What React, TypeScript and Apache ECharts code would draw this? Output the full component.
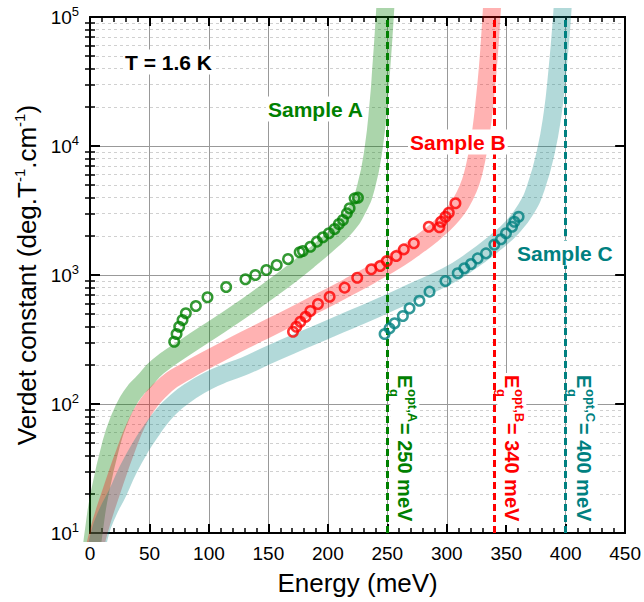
import React, { useEffect, useRef } from 'react';
import * as echarts from 'echarts';

const FONT = '"Liberation Sans", Arial, Helvetica, sans-serif';
const GREEN = '#008000';
const RED = '#ff0000';
const TEAL = '#008080';

// Measured points (circles)
const sampleA_E = [70.8, 72.8, 75, 77.8, 80.6, 89, 98.8, 114.5, 130.7, 139, 148.3, 157, 166.5, 176.3, 179, 185.3, 190.8, 195.9, 200.9, 205.7, 209.3, 212.7, 216, 218.3, 222.5, 225.3];
const sampleA_V = [304, 349, 397, 448, 505, 575, 672, 807, 927, 1000, 1093, 1196, 1331, 1500, 1535, 1657, 1813, 1960, 2105, 2274, 2485, 2670, 3005, 3288, 3930, 3975];

const sampleB_E = [170.7, 173.5, 176.9, 181.3, 185.3, 191.7, 201.5, 214.1, 224.7, 236.5, 244, 249.6, 257.5, 263.9, 272.3, 284.9, 293.8, 295.3, 298.9, 301.7, 307.3];
const sampleB_V = [363, 397, 434, 475, 526, 596, 679, 798, 953, 1107, 1175, 1284, 1404, 1581, 1761, 2367, 2343, 2588, 2831, 3041, 3597];

const sampleC_E = [247.7, 251.9, 256.1, 263.1, 268.7, 277, 285.5, 298.9, 309.2, 314.8, 320.4, 326, 333, 340, 345.6, 349.8, 354.9, 356.8, 360.4];
const sampleC_V = [349, 386, 423, 481, 552, 632, 743, 898, 1031, 1128, 1217, 1346, 1472, 1720, 1892, 2105, 2367, 2588, 2831];

// Model bands
const bandA_E = [1, 3, 8, 18, 25.2, 31.9, 38.6, 45, 57, 80, 109, 130, 151, 168, 185, 201.5, 215.5, 225.3, 232.3, 238.4, 242.9, 244.9, 247.7, 249.3];
const bandA_V = [7, 10, 20, 50, 78, 105, 129, 148, 195, 275, 412, 556, 766, 1000, 1334, 1799, 2399, 3311, 4898, 9480, 22700, 39800, 94800, 178000];

const bandB_E = [2, 7, 18, 32, 40.3, 48.7, 58.8, 68.8, 79.8, 89.8, 110, 130, 151, 175, 201.5, 220, 235, 260, 277, 287, 295, 305, 312, 318, 322, 326, 329, 332, 334.5, 336.5, 338, 339.2];
const bandB_V = [6, 10, 21, 49, 74, 100, 128, 154, 177, 200, 251, 313, 391, 506, 676, 832, 989, 1349, 1738, 2042, 2371, 2951, 3631, 4677, 6026, 8913, 13183, 22909, 39811, 70795, 117490, 199526];

const bandC_E = [4, 8.4, 15.1, 22.7, 31.9, 42, 52, 62, 73, 85.6, 99, 114.2, 130, 151, 180, 210, 240, 270, 300, 320, 340, 355, 366.6, 375, 383.4, 389, 393, 396.5, 398.5];
const bandC_V = [6, 10, 14.6, 20, 30.8, 45.6, 62.9, 83.6, 105, 128, 151, 174, 197, 242, 316, 415, 546, 729, 977, 1274, 1758, 2344, 3236, 4786, 9120, 17783, 38019, 89125, 177828];

// Optical gaps (meV)
const gapA = 250;
const gapB = 340;
const gapC = 400;

// Axis tick values
const yMinorTicks = [20, 30, 40, 50, 60, 70, 80, 90, 200, 300, 400, 500, 600, 700, 800, 900, 2000, 3000, 4000, 5000, 6000, 7000, 8000, 9000, 20000, 30000, 40000, 50000, 60000, 70000, 80000, 90000];

const zip = (xs: number[], ys: number[]) => xs.map((x, i) => [x, ys[i]]);

export default function App() {
  const ref = useRef<HTMLDivElement>(null);

  useEffect(() => {
    document.body.style.margin = '0';
    const chart = echarts.init(ref.current!, null, { renderer: 'svg' });

    const bandSeries = (data: number[][], color: string, opacity: number) => ({
      type: 'line',
      data,
      smooth: 0.5,
      showSymbol: false,
      symbol: 'none',
      silent: true,
      z: 1,
      lineStyle: { color, width: 18, opacity, cap: 'butt', join: 'round' },
    });

    const pointSeries = (data: number[][], color: string, gap: number) => ({
      type: 'scatter',
      data,
      symbol: 'circle',
      symbolSize: 9.5,
      z: 4,
      itemStyle: { color: 'rgba(255,255,255,0)', borderColor: color, borderWidth: 2.5 },
      markLine: {
        silent: true,
        symbol: ['none', 'none'],
        label: { show: false },
        lineStyle: { color, width: 3, type: [7, 4] },
        data: [{ xAxis: gap }],
        z: 3,
      },
    });

    const baseY = {
      type: 'log',
      logBase: 10,
      min: 10,
      max: 100000,
    };

    chart.setOption({
      animation: false,
      grid: { left: 90, right: 18, top: 17, bottom: 69, containLabel: false },
      xAxis: [
        {
          type: 'value', min: 0, max: 450, interval: 50, position: 'bottom',
          axisLine: { show: true, onZero: false, lineStyle: { color: '#000', width: 2 } },
          axisTick: { show: true, inside: true, length: 9, lineStyle: { color: '#000', width: 2 } },
          minorTick: { show: true, splitNumber: 5, length: 5, lineStyle: { color: '#000', width: 1.5 } },
          axisLabel: { show: true, fontSize: 19, color: '#000', fontFamily: FONT, margin: 11 },
          splitLine: { show: true, lineStyle: { color: '#999', width: 1 } },
          name: 'Energy (meV)', nameLocation: 'middle', nameGap: 37,
          nameTextStyle: { fontSize: 26, color: '#000', fontFamily: FONT },
        },
        {
          type: 'value', min: 0, max: 450, interval: 50, position: 'top',
          axisLine: { show: true, onZero: false, lineStyle: { color: '#000', width: 2 } },
          axisTick: { show: true, inside: true, length: 9, lineStyle: { color: '#000', width: 2 } },
          minorTick: { show: true, splitNumber: 5, length: 5, lineStyle: { color: '#000', width: 1.5 } },
          axisLabel: { show: false },
          splitLine: { show: false },
        },
      ],
      yAxis: [
        {
          ...baseY, position: 'left',
          axisLine: { show: true, onZero: false, lineStyle: { color: '#000', width: 2 } },
          axisTick: { show: true, inside: true, length: 10, lineStyle: { color: '#000', width: 2 } },
          axisLabel: {
            show: true, margin: 11, color: '#000', fontFamily: FONT,
            formatter: (v: number) => `{a|10}{s|${Math.round(Math.log10(v))}}`,
            rich: {
              a: { fontSize: 19, fontFamily: FONT, color: '#000', lineHeight: 24 },
              s: { fontSize: 13, fontFamily: FONT, color: '#000', verticalAlign: 'top', lineHeight: 24 },
            },
          },
          splitLine: { show: true, lineStyle: { color: '#999', width: 1 } },
          name: '{a|Verdet constant (deg.T}{s|-1}{a|.cm}{s|-1}{a|)}',
          nameLocation: 'middle', nameGap: 44,
          nameTextStyle: {
            fontSize: 26, color: '#000', fontFamily: FONT,
            rich: {
              a: { fontSize: 26, fontFamily: FONT, color: '#000', lineHeight: 30 },
              s: { fontSize: 15, fontFamily: FONT, color: '#000', verticalAlign: 'top', lineHeight: 30 },
            },
          },
        },
        {
          ...baseY, position: 'right',
          axisLine: { show: true, onZero: false, lineStyle: { color: '#000', width: 2 } },
          axisTick: { show: true, inside: true, length: 10, lineStyle: { color: '#000', width: 2 } },
          axisLabel: { show: false },
          splitLine: { show: false },
        },
        {
          ...baseY, position: 'left',
          axisLine: { show: false },
          axisTick: { show: true, inside: true, length: 5, customValues: yMinorTicks, lineStyle: { color: '#000', width: 1.5 } },
          axisLabel: { show: false },
          splitLine: { show: true, lineStyle: { color: '#d0d0d0', width: 1, type: [3, 3] } },
        },
        {
          ...baseY, position: 'right',
          axisLine: { show: false },
          axisTick: { show: true, inside: true, length: 5, customValues: yMinorTicks, lineStyle: { color: '#000', width: 1.5 } },
          axisLabel: { show: false },
          splitLine: { show: false },
        },
      ],
      series: [
        bandSeries(zip(bandA_E, bandA_V), GREEN, 0.33),
        bandSeries(zip(bandB_E, bandB_V), RED, 0.3),
        bandSeries(zip(bandC_E, bandC_V), TEAL, 0.3),
        pointSeries(zip(sampleA_E, sampleA_V), GREEN, gapA),
        pointSeries(zip(sampleB_E, sampleB_V), RED, gapB),
        pointSeries(zip(sampleC_E, sampleC_V), TEAL, gapC),
      ],
    });

    const px = (e: number) => chart.convertToPixel({ xAxisIndex: 0 }, e) as number;
    const py = (v: number) => chart.convertToPixel({ yAxisIndex: 0 }, v) as number;
    const yStart = py(168);

    const boldText = (text: string, color: string, size: number) => ({
      text, fill: color, fontSize: size, fontWeight: 'bold', fontFamily: FONT,
    });

    const sampleLabel = (text: string, color: string, x: number, y: number) => ({
      type: 'text', x, y, z: 100,
      style: {
        ...boldText(text, color, 21), align: 'left', verticalAlign: 'middle',
        backgroundColor: '#fff', padding: [2, 2, 2, 2],
      },
    });

    const gapLabel = (gap: number, color: string, tag: string) => ({
      type: 'group', x: px(gap) + 11, y: yStart, rotation: -Math.PI / 2, z: 100,
      children: [
        { type: 'rect', z: 100, shape: { x: -2, y: -21, width: 152, height: 29 }, style: { fill: '#fff' } },
        { type: 'text', z: 101, x: 0, y: -7, style: { ...boldText('E', color, 20), align: 'left', verticalAlign: 'middle' } },
        { type: 'text', z: 101, x: 14, y: 4, style: { ...boldText('g', color, 13), align: 'left', verticalAlign: 'middle' } },
        { type: 'text', z: 101, x: 14, y: -14, style: { ...boldText('opt,' + tag, color, 13), align: 'left', verticalAlign: 'middle' } },
        { type: 'text', z: 101, x: 48, y: -7, style: { ...boldText(`= ${gap} meV`, color, 20), align: 'left', verticalAlign: 'middle' } },
      ],
    });

    chart.setOption({
      graphic: {
        elements: [
          sampleLabel('T = 1.6 K', '#000', 123, 62),
          sampleLabel('Sample A', GREEN, 266, 109),
          sampleLabel('Sample B', RED, 408, 142),
          sampleLabel('Sample C', TEAL, 515, 253),
          gapLabel(gapA, GREEN, 'A'),
          gapLabel(gapB, RED, 'B'),
          gapLabel(gapC, TEAL, 'C'),
        ],
      },
    });

    return () => chart.dispose();
  }, []);

  return <div ref={ref} style={{ width: 644, height: 602 }} />;
}
